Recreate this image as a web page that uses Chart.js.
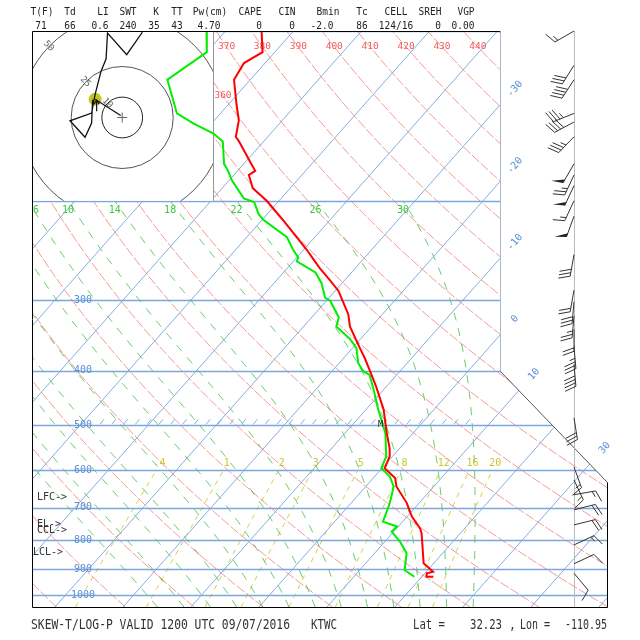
<!DOCTYPE html>
<html>
<head>
<meta charset="utf-8">
<script src="https://cdn.jsdelivr.net/npm/chart.js@4.4.1/dist/chart.umd.min.js"></script>
<style>
  html, body { margin: 0; padding: 0; background: #fff; }
</style>
</head>
<body>
<canvas id="chart" width="640" height="640"></canvas>
<script>
// Sounding KTWC 12Z 09/07/2016
const tempP = [100,109,114,122,135,144,154,157,170,177,180,190,200,216,244,254,263,276,289,299,318,334,365,380,401,427,469,516,549,568,596,620,642,687,726,761,777,878,909,915,928,928];
const tempC = [-74.7,-71.8,-73.1,-72.4,-68.8,-66.4,-64.7,-63.6,-59.5,-57.4,-57.8,-55.5,-51.8,-47.0,-39.6,-37.3,-35.3,-32.3,-29.5,-27.9,-25.0,-23.2,-18.9,-16.9,-14.4,-11.5,-7.4,-3.9,-1.5,-0.4,0.4,3.2,4.5,8.2,10.7,13.4,14.3,18.5,21.0,20.3,20.7,21.7];
const dewP = [100,109,122,140,146,152,157,172,177,184,198,201,211,216,232,244,252,256,268,280,297,301,322,334,352,365,388,401,407,432,469,516,568,596,616,642,687,741,756,772,804,843,903,928];
const dewC = [-82.8,-80.0,-82.2,-76.4,-72.6,-68.4,-66.0,-62.9,-61.4,-59.6,-55.5,-53.5,-51.3,-49.9,-44.1,-41.6,-39.8,-39.5,-35.3,-33.0,-30.6,-29.4,-26.0,-25.2,-21.5,-19.4,-17.2,-15.4,-14.0,-11.5,-8.2,-4.1,-0.9,-0.1,2.2,4.1,5.7,7.1,9.8,9.7,12.2,14.7,16.6,18.9];

// winds (pressure, direction from, knots)
const windP   = [100,115,122,140,145,154,172,180,188,200,213,249,288,302,320,338,363,390,485,593,625,664,706,751,815,880,915];
const windDir = [240,212,213,248,242,224,210,205,205,205,200,190,190,185,185,180,175,175,171,160,155,80,76,76,65,65,140];
const windKt  = [15,30,40,35,40,35,50,25,50,15,50,30,20,30,25,20,35,40,30,15,15,15,20,20,15,10,10];

// hodograph trace (u, v in knots) and cell motion
const hodoU = [-14.5,-15.0,-18.2,-25.6,-15.0,-13.3,-10.4,-7.9,-7.2,2.2,9.6,11.2];
const hodoV = [8.7,-2.7,-9.7,-1.6,2.2,11.2,22.6,28.8,41.4,30.8,41.4,46.8];
const hodoRings = [10, 25, 50];
const cellDir = 124, cellKt = 16;

// diagram lines and their labels
const isobars = [100,200,300,400,500,600,700,800,900,1000];
const isobarLabels = [300,400,500,600,700,800,900,1000];
const isotherms = [-110,-100,-90,-80,-70,-60,-50,-40,-30,-20,-10,0,10,20,30,40,50];
const isothermLabels = [-30,-20,-10,0,10,30];
const dryTheta = [240,250,260,270,280,290,300,310,320,330,340,350,360,370,380,390,400,410,420,430,440,450];
const dryLabels = [360,370,380,390,400,410,420,430,440];
const moistThetaW = [-18,-14,-10,-6,-2,2,6,10,14,18,22,26,30];
const moistLabels = [6,10,14,18,22,26,30];
const mixRatio = [0.4,1,2,3,5,8,12,16,20];
const mixLabels = ['.4','1','2','3','5','8','12','16','20'];

const headerNames  = ['T(F)','Td','LI','SWT','K','TT','Pw(cm)','CAPE','CIN','Bmin','Tc','CELL','SREH','VGP'];
const headerValues = ['71','66','0.6','240','35','43','4.70','0','0','-2.0','86','124/16','0','0.00'];
const headerNameX  = [42,70,103,128,156,177,210,250,287,328,362,396,430,466];
const headerValX   = [41,70,100,128,154,177,209,259,292,322,362,396,438,463];

// skew-T geometry
const Rd = 287.04, Cp = 1005.7, Lv = 2.501e6, EPS = 0.622;
const SKEW = 31.93, P_BOT = 1050;
const skewX = (t, p) => t + SKEW * Math.log(P_BOT / p);
const thetaT = (th, p) => th * Math.pow(p / 1000, Rd / Cp) - 273.15;
const esat = tc => 6.112 * Math.exp(17.67 * tc / (tc + 243.5));
const tdFromW = (w, p) => { const l = Math.log(p * w / (622 + w) / 6.112); return 243.5 * l / (17.67 - l); };

function moistLapse(tk, p) {
  const e = esat(tk - 273.15), r = EPS * e / (p - e);
  return (Rd * tk + Lv * r) / (Cp + Lv * Lv * r * EPS / (Rd * tk * tk));
}
function moistPath(thw) {
  const run = pEnd => {
    const out = [];
    let t = thw + 273.15, l = Math.log(1000);
    const lEnd = Math.log(pEnd), dir = lEnd > l ? 1 : -1;
    while ((lEnd - l) * dir > 1e-9) {
      const s = dir * Math.min(0.01, Math.abs(lEnd - l));
      const k1 = moistLapse(t, Math.exp(l));
      const k2 = moistLapse(t + k1 * s, Math.exp(l + s));
      t += s * (k1 + k2) / 2; l += s;
      out.push([Math.exp(l), t - 273.15]);
    }
    return out;
  };
  return run(1050).reverse().concat([[1000, thw]], run(200));
}

function txt(ctx, s, x, y, o = {}) {
  ctx.save();
  ctx.translate(x, y);
  if (o.rot) ctx.rotate(o.rot);
  ctx.scale(1, o.sy || 1);
  ctx.font = (o.size || 9.5) + 'px "DejaVu Sans Mono", monospace';
  ctx.fillStyle = o.color || '#222';
  ctx.textAlign = o.align || 'center';
  ctx.textBaseline = 'middle';
  if (o.w) ctx.fillText(s, 0, 0, o.w); else ctx.fillText(s, 0, 0);
  ctx.restore();
}
function poly(ctx, pts) {
  ctx.beginPath();
  pts.forEach((q, i) => i ? ctx.lineTo(q[0], q[1]) : ctx.moveTo(q[0], q[1]));
}
function framePts(chart) {
  const { chartArea: a, scales: { x, y } } = chart;
  const xr = x.getPixelForValue(35.44);
  return [[a.left, a.top], [xr, a.top], [xr, y.getPixelForValue(400)],
          [a.right, y.getPixelForValue(630)], [a.right, a.bottom], [a.left, a.bottom]];
}
function segHit(p1, p2, q1, q2) {
  const d = (p2[0]-p1[0])*(q2[1]-q1[1]) - (p2[1]-p1[1])*(q2[0]-q1[0]);
  if (Math.abs(d) < 1e-9) return null;
  const t = ((q1[0]-p1[0])*(q2[1]-q1[1]) - (q1[1]-p1[1])*(q2[0]-q1[0])) / d;
  const u = ((q1[0]-p1[0])*(p2[1]-p1[1]) - (q1[1]-p1[1])*(p2[0]-p1[0])) / d;
  return (t >= 0 && t <= 1 && u >= 0 && u <= 1) ? [p1[0] + t*(p2[0]-p1[0]), p1[1] + t*(p2[1]-p1[1])] : null;
}
function barb(ctx, x0, y0, dir, kt) {
  const r = dir * Math.PI / 180, dx = Math.sin(r), dy = -Math.cos(r);
  const L = 22, F = 12, gap = 3.5;
  const tx = x0 + dx * L, ty = y0 + dy * L;
  const fx = -dy * 0.94 + dx * 0.34, fy = dx * 0.94 + dy * 0.34;
  ctx.beginPath(); ctx.moveTo(x0, y0); ctx.lineTo(tx, ty); ctx.stroke();
  let rem = Math.round(kt / 5) * 5, pos = 0;
  while (rem >= 50) {
    const bx = tx - dx * pos, by = ty - dy * pos;
    ctx.beginPath(); ctx.moveTo(bx, by); ctx.lineTo(bx + fx * F, by + fy * F);
    ctx.lineTo(bx - dx * 4, by - dy * 4); ctx.closePath(); ctx.fill();
    pos += 5.5; rem -= 50;
  }
  while (rem >= 10) {
    const bx = tx - dx * pos, by = ty - dy * pos;
    ctx.beginPath(); ctx.moveTo(bx, by); ctx.lineTo(bx + fx * F, by + fy * F); ctx.stroke();
    pos += gap; rem -= 10;
  }
  if (rem >= 5) {
    if (pos === 0) pos = gap;
    const bx = tx - dx * pos, by = ty - dy * pos;
    ctx.beginPath(); ctx.moveTo(bx, by); ctx.lineTo(bx + fx * F / 2, by + fy * F / 2); ctx.stroke();
  }
}

const skewtGrid = {
  id: 'skewtGrid',
  beforeDatasetsDraw(chart) {
    const { ctx, chartArea: a, scales: { x: xs, y: ys } } = chart;
    const px = (t, p) => xs.getPixelForValue(skewX(t, p));
    const py = p => ys.getPixelForValue(p);
    const frame = framePts(chart);
    const hodoR = a.left + 181, hodoB = py(200);

    ctx.save();
    poly(ctx, frame); ctx.closePath(); ctx.clip();
    ctx.lineWidth = 1;

    // mixing ratio lines
    ctx.strokeStyle = 'rgba(205,205,50,0.9)'; ctx.setLineDash([5, 5]);
    mixRatio.forEach(w => {
      const pts = [];
      for (let p = 1050; p >= 600; p -= 25) pts.push([px(tdFromW(w, p), p), py(p)]);
      poly(ctx, pts); ctx.stroke();
    });
    // moist adiabats
    ctx.strokeStyle = 'rgba(50,185,50,0.75)'; ctx.setLineDash([8, 8]);
    moistThetaW.forEach(tw => {
      poly(ctx, moistPath(tw).map(([p, t]) => [px(t, p), py(p)])); ctx.stroke();
    });
    // dry adiabats
    ctx.strokeStyle = 'rgba(240,85,85,0.6)'; ctx.setLineDash([10, 2]);
    dryTheta.forEach(th => {
      const pts = [];
      for (let l = Math.log(1050); l >= Math.log(100) - 0.01; l -= 0.05) {
        const p = Math.exp(l); pts.push([px(thetaT(th, p), p), py(p)]);
      }
      poly(ctx, pts); ctx.stroke();
    });
    ctx.setLineDash([]);
    // isotherms
    ctx.strokeStyle = '#84aede';
    isotherms.forEach(t => {
      poly(ctx, [[px(t, 1050), py(1050)], [px(t, 100), py(100)]]); ctx.stroke();
    });
    // isobars
    ctx.strokeStyle = '#7aa7dc'; ctx.lineWidth = 1.4;
    isobars.forEach(p => {
      const yy = Math.round(py(p)) + 0.5;
      poly(ctx, [[a.left, yy], [a.right, yy]]); ctx.stroke();
    });
    // hatch along 500 mb
    ctx.lineWidth = 1; ctx.strokeStyle = '#86aede';
    for (let xx = a.left + 68; xx < a.left + 440; xx += 11.8) {
      poly(ctx, [[xx, py(500) - 1], [xx + 4, py(500) - 6]]); ctx.stroke();
    }
    ctx.restore();

    // labels of the diagram lines
    isobarLabels.forEach(p => txt(ctx, String(p), a.left + 51, py(p), { size: 10, color: '#5a8fd4' }));
    mixRatio.forEach((w, i) => txt(ctx, mixLabels[i], px(tdFromW(w, 600), 600) + 3, py(600) - 7, { size: 10, color: '#c8c830' }));
    moistThetaW.forEach(tw => {
      if (!moistLabels.includes(tw)) return;
      const path = moistPath(tw), last = path[path.length - 1];
      txt(ctx, String(tw), Math.max(px(last[1], 200), a.left + 4), hodoB + 10, { size: 10, color: '#3cc83c' });
    });
    const yTop = a.top + 16, pTop = ys.getValueForPixel(yTop);
    dryLabels.forEach(th => {
      let xx = px(thetaT(th, pTop), pTop), yy = yTop;
      if (xx < hodoR + 6) {
        let lo = 100, hi = 1050;
        for (let k = 0; k < 40; k++) {
          const m = (lo + hi) / 2;
          if (px(thetaT(th, m), m) < hodoR + 10) lo = m; else hi = m;
        }
        xx = hodoR + 10; yy = py(lo);
      }
      txt(ctx, String(th), xx, yy, { size: 9.5, color: '#f25a5a' });
    });
    const right = [[frame[1], frame[2]], [frame[2], frame[3]], [frame[3], frame[4]]];
    isothermLabels.forEach(t => {
      const p1 = [px(t, 1050), py(1050)], p2 = [px(t, 100), py(100)];
      for (const [q1, q2] of right) {
        const h = segHit(p1, p2, q1, q2);
        if (h) { txt(ctx, String(t), h[0] + 15, h[1] - 16, { size: 10, color: '#5a8fd4', rot: -0.85 }); break; }
      }
    });

    // hodograph inset
    ctx.save();
    ctx.fillStyle = '#fff';
    ctx.fillRect(a.left, a.top, hodoR - a.left, hodoB - a.top);
    ctx.beginPath(); ctx.rect(a.left, a.top, hodoR - a.left, hodoB - a.top); ctx.clip();
    const cx = a.left + 90.2, cy = a.top + 86.5, k = 2.04;
    ctx.lineWidth = 1;
    hodoRings.forEach((r, i) => {
      ctx.strokeStyle = i === 0 ? '#222' : '#555';
      ctx.beginPath(); ctx.arc(cx, cy, r * k, 0, Math.PI * 2); ctx.stroke();
      txt(ctx, String(r), cx - r * k * 0.72, cy - r * k * 0.7, { size: 9, color: '#666', rot: 0.8 });
    });
    ctx.strokeStyle = '#666';
    poly(ctx, [[cx - 5, cy], [cx + 5, cy]]); ctx.stroke();
    poly(ctx, [[cx, cy - 5], [cx, cy + 5]]); ctx.stroke();
    const cr = (cellDir + 180) * Math.PI / 180;
    const mx = cx + Math.sin(cr) * cellKt * k, my = cy - Math.cos(cr) * cellKt * k;
    ctx.fillStyle = 'rgba(190,185,0,0.85)';
    ctx.beginPath(); ctx.arc(mx, my, 6.5, 0, Math.PI * 2); ctx.fill();
    ctx.strokeStyle = '#111'; ctx.lineWidth = 1.2;
    poly(ctx, [[cx - 1.5, cy - 2], [mx, my]]); ctx.stroke();
    poly(ctx, [[mx + 1.5, my + 12], [mx + 1.5, my + 1]]); ctx.stroke();
    poly(ctx, [[mx - 1, my + 5], [mx + 1.5, my + 1], [mx + 4, my + 5]]); ctx.stroke();
    ctx.lineWidth = 1.3;
    poly(ctx, hodoU.map((u, i) => [cx + u * k, cy - hodoV[i] * k])); ctx.stroke();
    ctx.restore();
    ctx.strokeStyle = '#999'; ctx.lineWidth = 1;
    poly(ctx, [[hodoR + 0.5, a.top], [hodoR + 0.5, hodoB]]); ctx.stroke();
  },
  afterDatasetsDraw(chart) {
    const { ctx, chartArea: a, scales: { x: xs, y: ys } } = chart;
    const py = p => ys.getPixelForValue(p);
    const f = framePts(chart).map(([x, y]) => [Math.round(x) + 0.5, Math.round(y) + 0.5]);
    ctx.save();
    ctx.lineWidth = 1;
    const edge = (i, j, c) => { ctx.strokeStyle = c; poly(ctx, [f[i], f[j]]); ctx.stroke(); };
    edge(0, 1, '#000'); edge(1, 2, '#a9b8cc'); edge(2, 3, '#555'); edge(3, 4, '#000');
    edge(4, 5, '#000'); edge(5, 0, '#000');

    // wind barbs
    const bx = a.right - 33;
    ctx.strokeStyle = '#bbb';
    poly(ctx, [[bx + 0.5, a.top], [bx + 0.5, a.bottom]]); ctx.stroke();
    ctx.strokeStyle = '#333'; ctx.fillStyle = '#222';
    windP.forEach((p, i) => barb(ctx, bx, py(p), windDir[i], windKt[i]));

    // marker and parcel level labels
    txt(ctx, 'M', xs.getPixelForValue(skewX(-5.8, 500)), py(500), { size: 8.5, color: '#222' });
    txt(ctx, 'LFC->', a.left + 5, 497, { size: 10, color: '#333', align: 'left' });
    txt(ctx, 'EL->', a.left + 5, 524, { size: 10, color: '#333', align: 'left' });
    txt(ctx, 'CCL->', a.left + 5, 530, { size: 10, color: '#333', align: 'left' });
    txt(ctx, 'LCL->', a.left + 1, 552, { size: 10, color: '#333', align: 'left' });

    // header and footer
    headerNames.forEach((s, i) => txt(ctx, s, headerNameX[i], 12, { size: 9.5, sy: 1.05 }));
    headerValues.forEach((s, i) => txt(ctx, s, headerValX[i], 26.5, { size: 9.5, sy: 1.05 }));
    const fo = { size: 11.5, sy: 1.2, align: 'left', color: '#333' };
    txt(ctx, 'SKEW-T/LOG-P VALID 1200 UTC 09/07/2016', 31, 625, { ...fo, w: 259 });
    txt(ctx, 'KTWC', 311, 625, { ...fo, w: 26 });
    txt(ctx, 'Lat =', 413, 625, { ...fo, w: 32 });
    txt(ctx, '32.23', 470, 625, { ...fo, w: 32 });
    txt(ctx, ',', 509, 625, fo);
    txt(ctx, 'Lon =', 520, 625, { ...fo, w: 30 });
    txt(ctx, '-110.95', 565, 625, { ...fo, w: 42 });
    ctx.restore();
  }
};

new Chart(document.getElementById('chart').getContext('2d'), {
  type: 'scatter',
  data: {
    datasets: [
      {
        label: 'Temperature',
        data: tempP.map((p, i) => ({ x: skewX(tempC[i], p), y: p })),
        borderColor: '#ff0000',
        borderWidth: 2,
        showLine: true,
        pointRadius: 0
      },
      {
        label: 'Dewpoint',
        data: dewP.map((p, i) => ({ x: skewX(dewC[i], p), y: p })),
        borderColor: '#00ee00',
        borderWidth: 2,
        showLine: true,
        pointRadius: 0
      }
    ]
  },
  options: {
    responsive: false,
    animation: false,
    devicePixelRatio: 1,
    layout: { padding: { left: 32, top: 31, right: 33, bottom: 33 } },
    plugins: { legend: { display: false }, tooltip: { enabled: false } },
    scales: {
      x: { type: 'linear', min: -33.38, max: 51.18, display: false },
      y: { type: 'logarithmic', min: 100, max: 1050, reverse: true, display: false }
    }
  },
  plugins: [skewtGrid]
});
</script>
</body>
</html>
